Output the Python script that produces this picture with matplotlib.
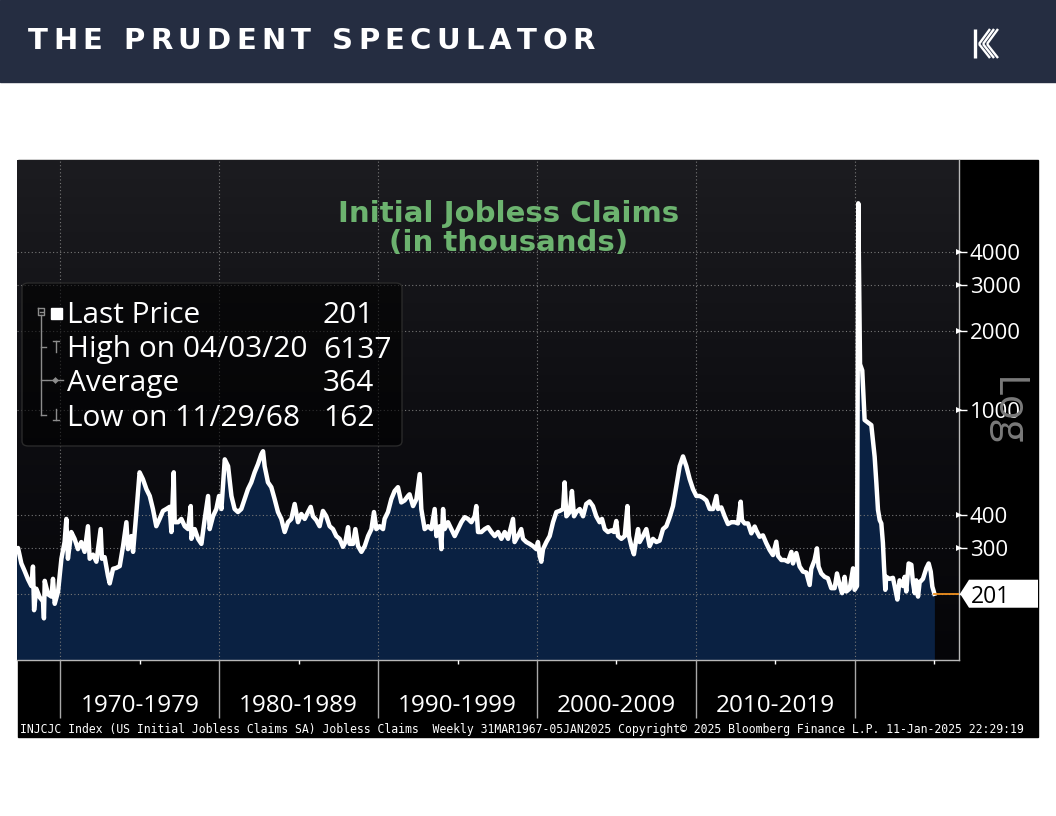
import matplotlib
matplotlib.use('Agg')
import matplotlib.pyplot as plt
import numpy as np
from matplotlib.patches import Rectangle, Polygon, FancyBboxPatch
from matplotlib.lines import Line2D
from matplotlib.transforms import blended_transform_factory
from matplotlib.ticker import FixedLocator, NullLocator, FixedFormatter, NullFormatter
from matplotlib.colors import LinearSegmentedColormap

plt.rcParams['font.family'] = ['Open Sans', 'DejaVu Sans']

# ---------------- data ----------------
years = [
    1967.25, 1967.34, 1967.55, 1967.76, 1967.97, 1968.18, 1968.28, 1968.35, 1968.49, 1968.70,
    1968.91, 1968.97, 1969.02, 1969.23, 1969.44, 1969.54, 1969.65, 1969.86, 1970.07, 1970.27,
    1970.38, 1970.48, 1970.69, 1970.90, 1971.11, 1971.32, 1971.53, 1971.74, 1971.85, 1972.06,
    1972.27, 1972.54, 1972.62, 1972.79, 1973.00, 1973.11, 1973.32, 1973.53, 1973.74, 1973.95,
    1974.16, 1974.26, 1974.47, 1974.58, 1974.79, 1974.99, 1975.20, 1975.42, 1975.63, 1975.83,
    1976.04, 1976.25, 1976.46, 1976.67, 1976.88, 1976.99, 1977.14, 1977.20, 1977.41, 1977.62,
    1977.83, 1978.04, 1978.21, 1978.25, 1978.46, 1978.67, 1978.88, 1979.09, 1979.30, 1979.40,
    1979.61, 1979.82, 1979.99, 1980.14, 1980.35, 1980.56, 1980.77, 1980.97, 1981.18, 1981.39,
    1981.60, 1981.81, 1982.02, 1982.23, 1982.44,
    1982.65, 1982.76, 1982.86, 1983.07, 1983.28, 1983.49, 1983.70, 1983.91, 1984.12, 1984.33,
    1984.54, 1984.75, 1984.96, 1985.17, 1985.38, 1985.59, 1985.76, 1985.90, 1986.11, 1986.32,
    1986.53, 1986.74, 1986.95, 1987.16, 1987.37, 1987.58, 1987.79, 1987.94, 1988.11, 1988.21,
    1988.42, 1988.57, 1988.74, 1988.95, 1989.16, 1989.37, 1989.58, 1989.74, 1989.89, 1990.10,
    1990.31, 1990.41, 1990.62, 1990.83, 1991.04, 1991.25, 1991.46, 1991.67, 1991.88, 1991.98,
    1992.20, 1992.41, 1992.62, 1992.72, 1992.93, 1993.14, 1993.35, 1993.56, 1993.67, 1993.88,
    1993.98, 1994.09, 1994.19, 1994.40, 1994.61, 1994.82, 1995.03, 1995.24, 1995.45, 1995.66,
    1995.87, 1996.08, 1996.18, 1996.29, 1996.50, 1996.71, 1996.92, 1997.13, 1997.34,
    1997.55, 1997.76, 1997.97, 1998.18, 1998.49, 1998.59, 1998.80, 1999.01, 1999.12, 1999.33,
    1999.54, 1999.75, 1999.96, 2000.06, 2000.17, 2000.27, 2000.38, 2000.59, 2000.80, 2001.01,
    2001.22, 2001.43, 2001.64, 2001.74, 2001.85, 2002.06, 2002.20, 2002.33, 2002.48, 2002.69,
    2002.90, 2003.10, 2003.31, 2003.52, 2003.73, 2003.94, 2004.09, 2004.26, 2004.47, 2004.68,
    2004.85, 2004.99, 2005.10, 2005.31, 2005.52, 2005.69, 2005.79, 2005.94, 2006.10, 2006.25,
    2006.36, 2006.46, 2006.67, 2006.88, 2007.09, 2007.30, 2007.51, 2007.72, 2007.93, 2008.14,
    2008.35, 2008.56, 2008.77, 2008.98, 2009.19, 2009.40, 2009.61, 2009.82, 2010.03, 2010.24,
    2010.45, 2010.66, 2010.87, 2011.08, 2011.29, 2011.39, 2011.60, 2011.81, 2012.02, 2012.23,
    2012.44,
    2012.65, 2012.82, 2012.90, 2013.07, 2013.28, 2013.49, 2013.70, 2013.80, 2014.01, 2014.22,
    2014.43, 2014.64, 2014.85, 2015.06, 2015.17, 2015.38, 2015.59, 2015.80, 2016.01, 2016.11,
    2016.32, 2016.53, 2016.74, 2016.95, 2017.16, 2017.26, 2017.47, 2017.62, 2017.72, 2017.89,
    2018.10, 2018.31, 2018.52, 2018.73, 2018.88, 2019.05, 2019.20, 2019.36, 2019.47, 2019.68,
    2019.89, 2019.99, 2020.14, 2020.22, 2020.33, 2020.47, 2020.56, 2020.62, 2020.83, 2021.04,
    2021.15, 2021.25, 2021.36, 2021.46, 2021.57, 2021.67, 2021.77, 2021.84, 2021.92, 2021.98,
    2022.19, 2022.40, 2022.51, 2022.68, 2022.82, 2023.03, 2023.14, 2023.24, 2023.39, 2023.56,
    2023.66, 2023.77, 2023.87, 2023.98, 2024.08, 2024.29, 2024.50, 2024.65, 2024.78, 2024.88,
    2025.01,
]
claims = [
    295, 300, 262, 245, 228, 215, 255, 174, 210, 195,
    188, 162, 225, 200, 196, 229, 184, 205, 273, 316,
    387, 273, 345, 325, 297, 316, 290, 363, 273, 283,
    266, 354, 273, 277, 235, 220, 250, 252, 256, 305,
    376, 297, 333, 290, 411, 582, 548, 502, 473, 422,
    363, 387, 415, 422, 430, 345, 582, 376, 376, 387,
    363, 354, 433, 325, 354, 325, 311, 387, 473, 354,
    396, 422, 473, 422, 652, 614, 473, 422, 411, 422,
    460, 502, 533, 582, 625,
    681, 700, 614, 533, 511, 460, 411, 387, 345, 376,
    387, 441, 376, 404, 387, 411, 430, 396, 383, 363,
    415, 396, 363, 354, 333, 325, 303, 316, 360, 311,
    311, 354, 305, 290, 305, 333, 354, 411, 354, 363,
    354, 387, 411, 460, 494, 511, 447, 455, 473, 480,
    433, 460, 573, 422, 354, 363, 354, 422, 333, 363,
    297, 422, 354, 376, 354, 333, 354, 376, 393, 387,
    376, 396, 433, 345, 345, 354, 360, 345, 333,
    345, 325, 345, 325, 387, 316, 333, 354, 325, 316,
    311, 305, 297, 316, 280, 266, 297, 316, 333, 376,
    411, 415, 422, 533, 396, 411, 494, 396, 411, 422,
    396, 441, 451, 433, 396, 376, 387, 354, 345, 350,
    345, 380, 333, 325, 333, 433, 333, 305, 284, 325,
    354, 316, 333, 354, 305, 325, 316, 320, 354, 363,
    393, 433, 516, 614, 669, 614, 548, 502, 473, 473,
    466, 455, 422, 422, 473, 422, 428, 396, 370, 376,
    376,
    372, 450, 383, 372, 372, 341, 362, 350, 331, 335,
    313, 295, 282, 317, 280, 270, 270, 266, 290, 262,
    287, 255, 244, 242, 217, 250, 270, 299, 255, 240,
    233, 230, 211, 211, 240, 217, 202, 233, 205, 210,
    251, 208, 215, 6137, 1500, 1420, 1100, 920, 900, 880,
    760, 667, 528, 419, 383, 372, 314, 255, 208, 233,
    229, 231, 215, 191, 226, 215, 233, 205, 262, 259,
    222, 202, 226, 196, 222, 229, 251, 262, 244, 214,
    201,
]
decade_ticks = [1970, 1980, 1990, 2000, 2010, 2020]
mid_ticks = [1975, 1985, 1995, 2005, 2015, 2025]
decade_labels = ['1970-1979', '1980-1989', '1990-1999', '2000-2009', '2010-2019']
ytick_vals = [200, 300, 400, 1000, 2000, 3000, 4000]
ytick_labels = ['', '300', '400', '1000', '2000', '3000', '4000']
legend_labels = ['Last Price', 'High on 04/03/20', 'Average', 'Low on 11/29/68']
legend_values = [str(claims[-1]), str(max(claims)), '364', str(min(claims))]
title_lines = ['Initial Jobless Claims', '(in thousands)']
header_text = 'THE PRUDENT SPECULATOR'
footer = ('INJCJC Index (US Initial Jobless Claims SA) Jobless Claims  Weekly '
          '31MAR1967-05JAN2025 Copyright\u00a9 2025 Bloomberg Finance L.P. 11-Jan-2025 22:29:19')

# ---------------- figure ----------------
W, H = 1056, 816
fig = plt.figure(figsize=(W / 100, H / 100), dpi=100)
fig.patch.set_facecolor('white')


def fx(x):
    return x / W


def fy(y):
    return 1 - y / H


# header band
fig.add_artist(Rectangle((0, fy(82)), 1, 82 / H, transform=fig.transFigure,
                         color='#252d41', zorder=0))
# black panel
fig.add_artist(Rectangle((fx(18), fy(737)), 1020 / W, 577 / H, transform=fig.transFigure,
                         color='black', zorder=0))

# header text, letter-spaced (tracked) like the reference
hprop = dict(fontsize=21, fontweight='bold', family='DejaVu Sans', color='white')
renderer = fig.canvas.get_renderer()
widths = []
for ch in header_text:
    if ch == ' ':
        widths.append(10.0)
    else:
        t = fig.text(0, 0, ch, **hprop)
        widths.append(t.get_window_extent(renderer).width)
        t.remove()
track = (567 - sum(widths)) / (len(header_text) - 1)
xc = 28.0
for ch, w in zip(header_text, widths):
    if ch != ' ':
        fig.text(fx(xc), fy(41), ch, ha='left', va='center', zorder=5, **hprop)
    xc += w + track

# logo (stylised K)
logo_col = 'white'
fig.add_artist(Line2D([fx(975), fx(975)], [fy(29), fy(58)], color=logo_col, lw=2.4,
                      transform=fig.transFigure, zorder=5, solid_capstyle='butt'))
for i in range(3):
    fig.add_artist(Line2D([fx(979 + 4 * i), fx(990 + 4 * i)], [fy(44), fy(29)], color=logo_col,
                          lw=1.7, transform=fig.transFigure, zorder=5, solid_capstyle='butt'))
    fig.add_artist(Line2D([fx(979 + 4 * i), fx(990 + 4 * i)], [fy(44), fy(58)], color=logo_col,
                          lw=1.7, transform=fig.transFigure, zorder=5, solid_capstyle='butt'))

# plot area
left_px, right_px, top_px, bot_px = 16.6, 958.7, 160, 660
rect = [fx(left_px), fy(bot_px), (right_px - left_px) / W, (bot_px - top_px) / H]

bgax = fig.add_axes(rect, zorder=0.5)
grad = np.linspace(0, 1, 256).reshape(-1, 1)
cmap = LinearSegmentedColormap.from_list('bg', ['#050508', '#0e0e12', '#1c1c20'])
bgax.imshow(grad, aspect='auto', cmap=cmap, origin='lower', extent=[0, 1, 0, 1])
bgax.set_axis_off()

ax = fig.add_axes(rect, zorder=1)
ax.set_facecolor('none')
ax.set_yscale('log')
xlim = (1967.25, 2026.54)
ylim = (112.5, 8966)

ax.fill_between(years, claims, 100, color='#0a2142', lw=0, zorder=1)
ax.plot(years, claims, color='white', lw=3.2, zorder=3, solid_joinstyle='round')
ax.plot([years[-1], xlim[1]], [claims[-1], claims[-1]], color='#f0901e', lw=1.3, zorder=3)
ax.set_xlim(*xlim)
ax.set_ylim(*ylim)

ax.set_axisbelow(False)
ax.xaxis.set_major_locator(FixedLocator(decade_ticks))
ax.xaxis.set_minor_locator(FixedLocator(mid_ticks))
ax.xaxis.set_major_formatter(NullFormatter())
ax.xaxis.set_minor_formatter(NullFormatter())
ax.yaxis.set_major_locator(FixedLocator(ytick_vals))
ax.yaxis.set_major_formatter(FixedFormatter(ytick_labels))
ax.yaxis.set_minor_locator(NullLocator())
ax.yaxis.tick_right()
ax.grid(True, which='major', color='#777777', linestyle=(0, (1, 2.2)), linewidth=0.8)

for s in ['left', 'top']:
    ax.spines[s].set_visible(False)
for s in ['right', 'bottom']:
    ax.spines[s].set_color('#b8b8b8')
    ax.spines[s].set_linewidth(1.0)

ax.tick_params(axis='x', which='major', direction='out', length=42, width=1, color='#a8a8a8')
ax.tick_params(axis='x', which='minor', direction='out', length=3, width=1, color='white')
ax.tick_params(axis='y', which='major', direction='out', length=6, width=1, color='white',
               labelcolor='white', labelsize=16, pad=2)

ytr = blended_transform_factory(ax.transAxes, ax.transData)
for v, lab in zip(ytick_vals, ytick_labels):
    if lab:
        ax.plot([1.0], [v], marker='>', markersize=5, color='white', transform=ytr,
                clip_on=False, zorder=4, markeredgewidth=0)

xtr = blended_transform_factory(ax.transData, ax.transAxes)
for start, lab in zip(decade_ticks[:-1], decade_labels):
    ax.text(start + 5, -(711.7 - bot_px) / (bot_px - top_px), lab, transform=xtr,
            ha='center', va='baseline', fontsize=17.5, color='white')

# title
fig.text(fx(508.5), fy(222), title_lines[0], ha='center', va='baseline', fontsize=21,
         fontweight='bold', family='DejaVu Sans', color='#6cb36f', zorder=4)
fig.text(fx(508.5), fy(251), title_lines[1], ha='center', va='baseline', fontsize=21,
         fontweight='bold', family='DejaVu Sans', color='#6cb36f', zorder=4)

# Log label
fig.text(fx(1006), fy(412), 'Log', rotation=270, fontsize=30, color='#7a7a7a',
         ha='center', va='center', zorder=4)

# last-value tag
ydisp = ax.transData.transform((xlim[1], claims[-1]))[1]
yc = ydisp / H
hh = 14 / H
tag = Polygon([[fx(960), yc], [fx(969), yc + hh], [fx(1038), yc + hh], [fx(1038), yc - hh],
               [fx(969), yc - hh]], closed=True, transform=fig.transFigure, fc='white',
              ec='none', zorder=4)
fig.add_artist(tag)
fig.text(fx(971), yc, str(claims[-1]), ha='left', va='center_baseline', fontsize=16.5,
         color='black', zorder=5)

# legend box
box = FancyBboxPatch((fx(22), fy(446)), (402 - 22) / W, (446 - 283) / H,
                     boxstyle='round,pad=0,rounding_size=0.006', transform=fig.transFigure,
                     fc=(0, 0, 0, 0.6), ec='#2a2a2a', lw=1, zorder=3)
fig.add_artist(box)
baselines = [323.3, 357.5, 391.0, 425.5]
for lab, val, b in zip(legend_labels, legend_values, baselines):
    fig.text(fx(67), fy(b), lab, ha='left', va='baseline', fontsize=21.5, color='white', zorder=4)
    fig.text(fx(323), fy(b), val, ha='left', va='baseline', fontsize=21.5, color='white', zorder=4)

icol = '#8c8c8c'


def fline(xs, ys, color=icol, lw=1.0, **kw):
    fig.add_artist(Line2D([fx(x) for x in xs], [fy(y) for y in ys], color=color, lw=lw,
                          transform=fig.transFigure, zorder=4, **kw))


# tree
fline([38, 44, 44, 38, 38], [308, 308, 315, 315, 308])
fline([39.5, 42.5], [311.5, 311.5])
fline([41, 41], [315, 415])
fline([41, 46], [347, 347])
fline([41, 46], [380, 380])
fline([41, 46], [415, 415])
fig.add_artist(Rectangle((fx(50.5), fy(318.5)), 11 / W, 11 / H, transform=fig.transFigure,
                         color='white', zorder=4))
fline([53, 59], [341, 341])
fline([56, 56], [341, 352])
fline([47, 63], [380, 380])
fline([55], [380], marker='D', markersize=3.5, markerfacecolor=icol, markeredgewidth=0)
fline([56, 56], [409, 420])
fline([53, 59], [420, 420])

# footer
fig.text(fx(20), fy(732.7), footer, ha='left', va='baseline', fontsize=8.3,
         family='DejaVu Sans Mono', color='white', zorder=4)

fig.savefig('out.png', dpi=100, facecolor='white')
